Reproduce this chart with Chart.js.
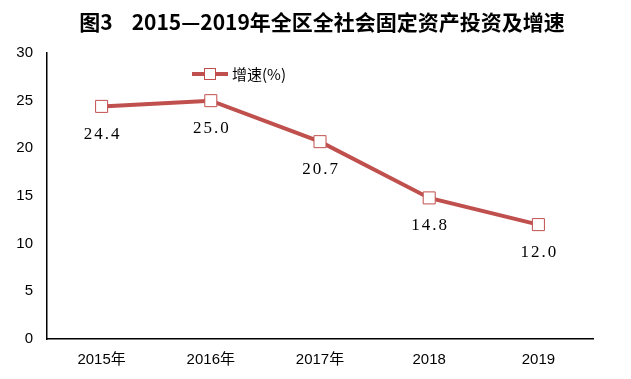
<!DOCTYPE html>
<html>
<head>
<meta charset="utf-8">
<script src="https://cdn.jsdelivr.net/npm/chart.js@4/dist/chart.umd.min.js"></script>
<style>
  html, body { margin: 0; padding: 0; background: #fff; }
  #wrap { width: 631px; height: 379px; position: relative; }
</style>
</head>
<body>
<div id="wrap"><canvas id="c"></canvas></div>
<script>
const titleText = '图3    2015—2019年全区全社会固定资产投资及增速';
const years = ['2015年', '2016年', '2017年', '2018', '2019'];
const growth = [24.4, 25.0, 20.7, 14.8, 12.0];
const seriesName = '增速(%)';

const red = '#C0504D';
const labelFont = '"Liberation Sans", "Noto Sans CJK SC", sans-serif';

// title, legend and value labels drawn by hand
const extras = {
    id: 'extras',
    afterDatasetsDraw(chart) {
        const ctx = chart.ctx;
        ctx.save();
        ctx.fillStyle = '#000';
        ctx.textAlign = 'center';
        ctx.textBaseline = 'middle';
        ctx.font = 'bold 21px "Noto Sans CJK SC", sans-serif';
        ctx.fillText(titleText, 322, 22);

        // values under the points
        ctx.font = '17px "Liberation Serif", "DejaVu Serif", serif';
        ctx.letterSpacing = '2px';
        const meta = chart.getDatasetMeta(0);
        meta.data.forEach((pt, i) => {
            ctx.fillText(growth[i].toFixed(1), pt.x + 1, pt.y + 28);
        });
        ctx.letterSpacing = '0px';

        // legend
        ctx.strokeStyle = red;
        ctx.lineWidth = 4;
        ctx.beginPath();
        ctx.moveTo(192, 74);
        ctx.lineTo(228, 74);
        ctx.stroke();
        ctx.fillStyle = '#fff';
        ctx.lineWidth = 1;
        ctx.fillRect(204, 68, 12, 12);
        ctx.strokeRect(204.5, 68.5, 11, 11);
        ctx.fillStyle = '#000';
        ctx.textAlign = 'left';
        ctx.font = '15px "Noto Sans CJK SC", sans-serif';
        ctx.fillText(seriesName, 232, 74);
        ctx.restore();
    }
};

new Chart(document.getElementById('c'), {
    type: 'line',
    data: {
        labels: years,
        datasets: [{
            label: seriesName,
            data: growth,
            borderColor: red,
            borderWidth: 4,
            pointStyle: 'rect',
            pointRadius: 8.5,
            pointBorderWidth: 1,
            pointBorderColor: red,
            pointBackgroundColor: '#fff',
            tension: 0,
        }],
    },
    options: {
        responsive: true,
        maintainAspectRatio: false,
        animation: false,
        layout: { padding: { top: 53, right: 38, left: 0, bottom: 0 } },
        plugins: { legend: { display: false }, tooltip: { enabled: false } },
        scales: {
            x: {
                offset: true,
                grid: { display: false, drawTicks: false, offset: true },
                border: { color: '#000', width: 1.5 },
                ticks: { color: '#000', font: { size: 15, family: labelFont }, padding: 12 },
                afterFit: (s) => { s.height = 40; },
            },
            y: {
                min: 0,
                max: 30,
                ticks: { stepSize: 5, color: '#000', font: { size: 15, family: labelFont }, padding: 14 },
                grid: { display: false, drawTicks: false },
                border: { color: '#000', width: 1.5 },
                afterFit: (s) => { s.width = 47; },
            },
        },
    },
    plugins: [extras],
});
</script>
</body>
</html>
